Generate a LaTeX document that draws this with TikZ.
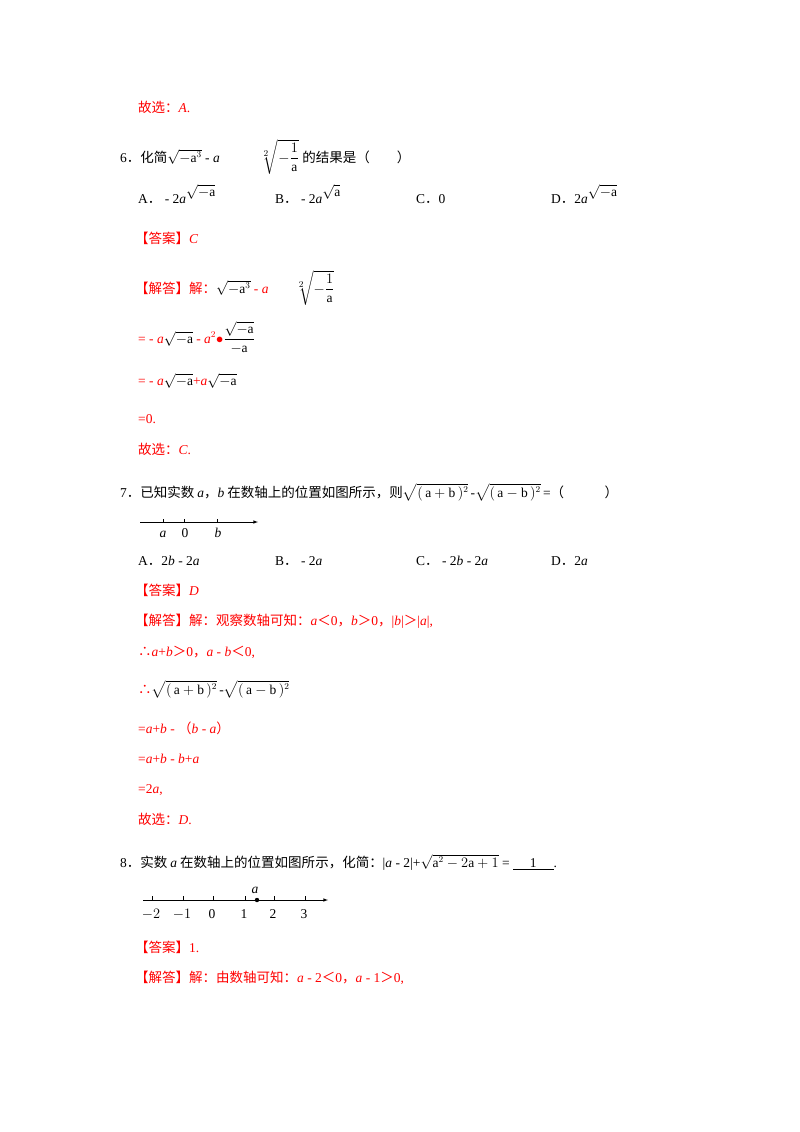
\documentclass[tikz,border=0pt]{standalone}
\usepackage{amsmath}
\usepackage{fontspec}
\setmainfont{Liberation Serif}
\newfontfamily\cjk{Noto Sans CJK SC}
\definecolor{ans}{RGB}{255,0,0}
\newcommand{\zh}[1]{{\cjk #1}}
\newcommand{\rtwo}{\ ${}^{2}\!\!\sqrt{-\dfrac{1}{\mathrm{a}}}$}
\newcommand{\up}[1]{\raisebox{7pt}{#1}}
\begin{document}
\begin{tikzpicture}[x=1pt,y=-1pt,
  t/.style={anchor=base west,inner sep=0pt,font=\fontsize{13.5}{15}\selectfont},
  r/.style={t,text=ans},
  c/.style={anchor=base,inner sep=0pt,font=\fontsize{13.5}{15}\selectfont},
  tk/.style={line width=0.6pt}]
\useasboundingbox[fill=white] (0,0) rectangle (800,1132);
\node[r] (l1) at (138,112) {\zh{故选：}\textit{A}.};
\node[t] (l2) at (120,162) {6\zh{．化简}$\sqrt{-\mathrm{a}^{3}}$\ - \textit{a}\qquad\quad\rtwo\ \zh{的结果是（\qquad ）}};
\node[t] (oA) at (138,203) {A\zh{．} - 2\textit{a}\up{$\sqrt{-\mathrm{a}}$}};
\node[t] (oB) at (275,203) {B\zh{．} - 2\textit{a}\up{$\sqrt{\mathrm{a}}$}};
\node[t] (oC) at (416,203) {C\zh{．}0};
\node[t] (oD) at (551,203) {D\zh{．}2\textit{a}\up{$\sqrt{-\mathrm{a}}$}};
\node[r] (ans6) at (135,243) {\zh{【答案】}\textit{C}};
\node[r] (s61) at (135,293) {\zh{【解答】解：}\textcolor{black}{$\sqrt{-\mathrm{a}^{3}}$}\ - \textit{a}\qquad\textcolor{black}{\rtwo}};
\node[r] (s62) at (138,343) {= - \textit{a}\textcolor{black}{$\sqrt{-\mathrm{a}}$} - \textit{a}$^2$$\bullet$\textcolor{black}{$\dfrac{\sqrt{-\mathrm{a}}}{-\mathrm{a}}$}};
\node[r] (s63) at (138,385) {= - \textit{a}\textcolor{black}{$\sqrt{-\mathrm{a}}$}+\textit{a}\textcolor{black}{$\sqrt{-\mathrm{a}}$}};
\node[r] (s64) at (138,423) {=0.};
\node[r] (s65) at (138,454) {\zh{故选：}\textit{C}.};
\node[t] (l7) at (120,497) {7\zh{．已知实数 }\textit{a}\zh{，}\textit{b}\zh{ 在数轴上的位置如图所示，则}$\sqrt{(\,\mathrm{a+b}\,)^{2}}$\,-$\sqrt{(\,\mathrm{a-b}\,)^{2}}$\,=\zh{（\qquad\quad ）}};
\coordinate (n1s) at (140,522); \coordinate (n1e) at (258,522);
\draw[tk,-latex] (n1s) -- (n1e);
\foreach \x in {163,184,217}{\draw[tk] (\x,519) -- (\x,522);}
\node[c] (la1) at (163,537) {\textit{a}};
\node[c] (l01) at (185,537) {0};
\node[c] (lb1) at (218,537) {\textit{b}};
\node[t] (p7A) at (138,565) {A\zh{．}2\textit{b} - 2\textit{a}};
\node[t] (p7B) at (275,565) {B\zh{．} - 2\textit{a}};
\node[t] (p7C) at (416,565) {C\zh{．} - 2\textit{b} - 2\textit{a}};
\node[t] (p7D) at (551,565) {D\zh{．}2\textit{a}};
\node[r] (ans7) at (135,595) {\zh{【答案】}\textit{D}};
\node[r] (s71) at (135,625) {\zh{【解答】解：观察数轴可知：}\textit{a}\zh{＜}0\zh{，}\textit{b}\zh{＞}0\zh{，}|\textit{b}|\zh{＞}|\textit{a}|,};
\node[r] (s72) at (138,656) {\zh{∴}\textit{a}+\textit{b}\zh{＞}0\zh{，}\textit{a} - \textit{b}\zh{＜}0,};
\node[r] (s73) at (138,694) {\zh{∴}\textcolor{black}{$\sqrt{(\,\mathrm{a+b}\,)^{2}}$\,-$\sqrt{(\,\mathrm{a-b}\,)^{2}}$}};
\node[r] (s74) at (138,733) {=\textit{a}+\textit{b} - \zh{（}\textit{b} - \textit{a}\zh{）}};
\node[r] (s75) at (138,763) {=\textit{a}+\textit{b} - \textit{b}+\textit{a}};
\node[r] (s76) at (138,793) {=2\textit{a},};
\node[r] (s77) at (138,824) {\zh{故选：}\textit{D}.};
\node[t] (l8) at (120,867) {8\zh{．实数 }\textit{a}\zh{ 在数轴上的位置如图所示，化简：}|\textit{a} - 2|+$\sqrt{\mathrm{a}^{2}-2\mathrm{a}+1}$ = \underline{\quad\ 1\quad\ }.};
\coordinate (n2s) at (143,900); \coordinate (n2e) at (328,900);
\draw[tk,-latex] (n2s) -- (n2e);
\foreach \x/\l in {152/$-2$,183/$-1$,213/0,245/1,274/2,305/3}{\draw[tk] (\x,896) -- (\x,900); \node[c] at (\x-1,918) {\l};}
\fill (257,900) circle (2.2);
\node[c] (la) at (255,893) {\textit{a}};
\node[r] (ans8) at (135,952) {\zh{【答案】}1.};
\node[r] (s81) at (135,982) {\zh{【解答】解：由数轴可知：}\textit{a} - 2\zh{＜}0\zh{，}\textit{a} - 1\zh{＞}0,};
\end{tikzpicture}
\end{document}
